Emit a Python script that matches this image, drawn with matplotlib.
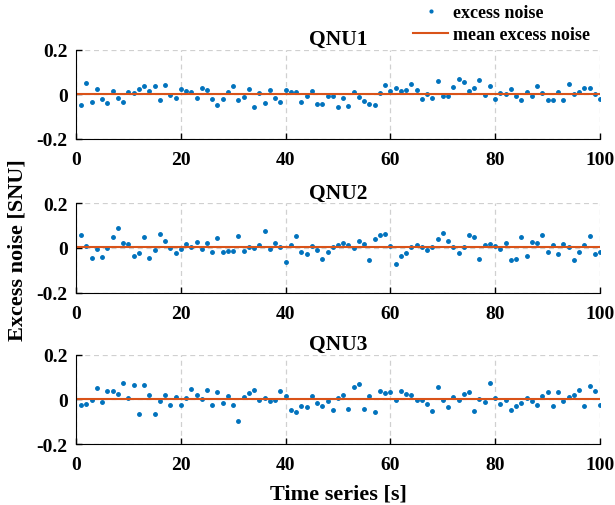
import numpy as np
import matplotlib.pyplot as plt

plt.rcParams['font.family'] = ['Liberation Serif', 'DejaVu Serif']
plt.rcParams['font.weight'] = 'bold'

# ====== data ======
t = np.arange(1, 101)

qnu1 = [-0.046, 0.049, -0.034, 0.022, -0.021, -0.040, 0.015, -0.016, -0.036, 0.012,
        0.006, 0.022, 0.036, 0.013, 0.039, -0.027, 0.040, -0.001, -0.015, 0.022,
        0.016, 0.012, -0.016, 0.027, 0.021, -0.022, -0.046, -0.021, 0.010, 0.036,
        -0.027, -0.012, 0.024, -0.058, 0.004, -0.037, 0.019, -0.015, -0.036, 0.019,
        0.009, 0.012, -0.036, -0.006, 0.016, -0.045, -0.045, -0.009, -0.009, -0.057,
        -0.018, -0.051, 0.012, -0.013, -0.028, -0.045, -0.048, 0.004, 0.040, 0.016,
        0.027, 0.016, 0.021, 0.046, 0.021, -0.022, 0.003, -0.018, 0.058, -0.009,
        -0.007, 0.033, 0.069, 0.054, 0.016, 0.030, 0.064, -0.001, 0.036, -0.021,
        0.006, 0.003, 0.022, -0.006, -0.024, 0.012, -0.007, 0.037, 0.004, -0.025,
        -0.025, 0.012, -0.024, 0.046, 0.000, 0.012, 0.028, 0.028, 0.000, -0.019]

qnu2 = [0.060, 0.007, -0.046, -0.006, -0.042, 0.000, 0.049, 0.088, 0.024, 0.019,
        -0.037, -0.022, 0.049, -0.046, -0.007, 0.063, 0.033, -0.001, -0.022, -0.006,
        0.018, 0.003, 0.028, -0.003, 0.022, -0.018, 0.043, -0.018, -0.012, -0.015,
        0.054, -0.012, 0.004, 0.000, 0.015, 0.076, -0.006, 0.021, 0.006, -0.063,
        0.012, 0.054, -0.018, -0.027, 0.009, -0.010, -0.051, -0.018, 0.006, 0.012,
        0.021, 0.013, 0.000, 0.033, 0.019, -0.052, 0.040, 0.057, 0.063, 0.009,
        -0.072, -0.034, -0.024, 0.006, 0.015, 0.006, -0.007, 0.006, 0.039, 0.066,
        0.031, 0.006, -0.021, 0.006, 0.058, 0.051, -0.049, 0.015, 0.018, 0.010,
        -0.003, 0.024, -0.054, -0.048, 0.049, -0.034, 0.028, 0.022, 0.058, -0.016,
        0.013, -0.028, 0.016, 0.004, -0.052, -0.016, 0.013, 0.054, -0.025, -0.018]

qnu3 = [-0.024, -0.021, -0.001, 0.052, -0.010, 0.039, 0.039, 0.022, 0.073, 0.004,
        0.064, -0.064, 0.064, 0.021, -0.067, -0.006, 0.018, -0.024, 0.012, -0.024,
        0.004, 0.045, 0.018, 0.001, 0.040, -0.024, 0.034, -0.018, 0.015, -0.027,
        -0.095, 0.012, 0.027, 0.042, -0.004, 0.006, -0.006, -0.004, 0.037, 0.013,
        -0.049, -0.058, -0.030, -0.036, 0.016, -0.016, -0.028, -0.006, -0.048, 0.006,
        0.021, -0.042, 0.054, 0.069, -0.043, 0.015, -0.057, 0.039, 0.030, 0.031,
        -0.003, 0.039, 0.025, 0.021, -0.001, -0.001, -0.019, -0.051, 0.057, -0.001,
        -0.036, 0.009, -0.003, 0.024, 0.033, -0.051, 0.001, -0.010, 0.072, 0.007,
        -0.021, -0.003, -0.046, -0.030, -0.016, 0.007, -0.006, -0.024, 0.016, 0.031,
        -0.028, 0.031, -0.009, 0.009, 0.021, 0.040, -0.030, 0.061, 0.037, -0.027]

titles = ['QNU1', 'QNU2', 'QNU3']
series = [qnu1, qnu2, qnu3]
# =======================================

blue = '#0072BD'
orange = '#D95319'

fig = plt.figure(figsize=(6.15, 5.06), dpi=100)
W, H = 615, 506
boxes = [(50.7, 140), (204.3, 293.7), (355.7, 445)]

for (top, bot), name, y in zip(boxes, titles, series):
    ax = fig.add_axes([76 / W, 1 - bot / H, (600 - 76) / W, (bot - top) / H])
    ax.plot(t, y, '.', color=blue, markersize=5, label='excess noise')
    m = np.mean(y)
    ax.plot([0, 100], [m, m], '-', color=orange, lw=1.5, label='mean excess noise')
    ax.set_xlim(0, 100)
    ax.set_ylim(-0.2, 0.2)
    ax.set_xticks(np.arange(0, 101, 20))
    ax.set_yticks([-0.2, 0, 0.2])
    ax.set_yticklabels(['-0.2', '0', '0.2'])
    ax.grid(True, ls=(0, (4, 3)), color='#d0d0d0', lw=0.9)
    ax.set_axisbelow(True)
    ax.spines['top'].set_visible(False)
    ax.spines['right'].set_visible(False)
    ax.tick_params(direction='in', labelsize=14, length=4, width=1)
    ax.tick_params(axis='y', pad=6)
    ax.tick_params(axis='x', pad=9)
    for lab in ax.get_xticklabels() + ax.get_yticklabels():
        lab.set_fontweight('bold')
    ax.set_title(name, fontsize=15.5, fontweight='bold', pad=4)
    if name == 'QNU3':
        ax.set_xlabel('Time series [s]', fontsize=16, fontweight='bold', labelpad=7)
    if name == 'QNU1':
        h, l = ax.get_legend_handles_labels()

fig.legend(h, l, loc='upper left', bbox_to_anchor=(413 / W, 1 - 5 / H),
           frameon=False, handlelength=1.95, handletextpad=0.25, borderpad=0,
           borderaxespad=0, labelspacing=0.3, markerscale=0.8,
           prop={'weight': 'bold', 'size': 13})

fig.text(18 / W, 1 - 250 / H, 'Excess noise [SNU]', rotation=90, ha='center',
         va='center', fontsize=16, fontweight='bold')

plt.savefig('out.png', dpi=100)
